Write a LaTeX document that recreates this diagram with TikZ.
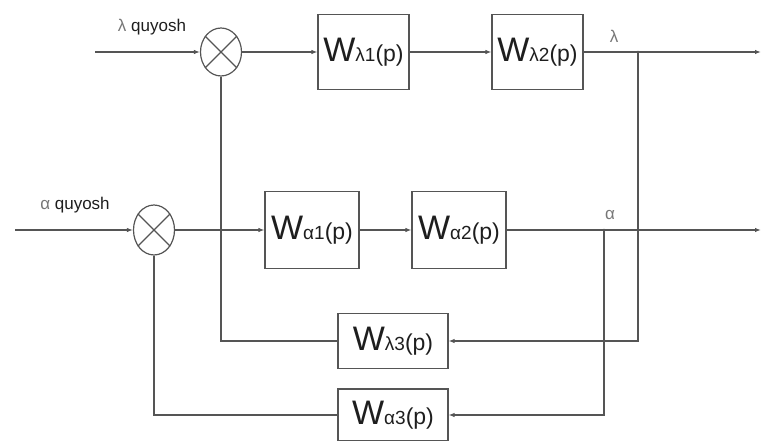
\documentclass[tikz,border=0pt]{standalone}
\usepackage{fontspec}
\setmainfont{Liberation Sans}
\usetikzlibrary{arrows.meta,shapes.geometric}
\definecolor{lc}{HTML}{555555}
\definecolor{tc}{HTML}{1E1E1E}
\definecolor{gc}{HTML}{777777}
\newcommand{\wlab}[2]{{\fontsize{34}{34}\selectfont W}{\fontsize{19}{19}\selectfont #1#2}{\fontsize{23}{23}\selectfont (p)}}
\begin{document}
\begin{tikzpicture}[x=1pt,y=-1pt,
  line width=1.2pt, draw=lc,
  tip/.style={-{Latex[length=6pt,width=4.5pt]}},
  blk/.style={draw=lc, line width=1.2pt, inner sep=0pt, text=tc},
  sumj/.style={ellipse, draw=lc, line width=1.2pt, minimum width=41pt, minimum height=48pt, inner sep=0pt},
  lab/.style={text=tc, font=\fontsize{17}{17}\selectfont, inner sep=0pt}]
\useasboundingbox (0,0) rectangle (762,441);
% summing junctions
\node[sumj] (s1) at (221,52) {};
\node[sumj, minimum height=50pt] (s2) at (154,230) {};
\foreach \s in {s1,s2}{
  \draw[lc] (\s.45) -- (\s.225);
  \draw[lc] (\s.135) -- (\s.315);
}
% blocks
\node[blk, minimum width=91pt, minimum height=75pt] (wl1) at (363.5,52) {\wlab{λ}{1}};
\node[blk, minimum width=91pt, minimum height=75pt] (wl2) at (537.5,52) {\wlab{λ}{2}};
\node[blk, minimum width=94pt, minimum height=77pt] (wa1) at (312,230) {\wlab{α}{1}};
\node[blk, minimum width=94pt, minimum height=77pt] (wa2) at (459,230) {\wlab{α}{2}};
\node[blk, minimum width=110pt, minimum height=55pt] (wl3) at (393,341) {\wlab{λ}{3}};
\node[blk, minimum width=110pt, minimum height=52pt] (wa3) at (393,415) {\wlab{α}{3}};
% coordinates
\coordinate (in1) at (95,52);
\coordinate (in2) at (15,230);
\coordinate (j1) at (638,52);
\coordinate (j2) at (604,230);
\coordinate (o1) at (761,52);
\coordinate (o2) at (761,230);
\coordinate (c1) at (638,341);
\coordinate (c2) at (604,415);
\coordinate (d1) at (221,341);
\coordinate (d2) at (154,415);
% labels
\node[lab, anchor=south] at (152,36) {{\color{gc}λ} quyosh};
\node[lab, anchor=south] at (75,214) {{\color{gc}α} quyosh};
\node[lab, anchor=south, text=gc] at (614,43) {λ};
\node[lab, anchor=south, text=gc] at (610,220) {α};
% forward paths
\draw[tip] (in1) -- (s1);
\draw[tip] (s1) -- (wl1);
\draw[tip] (wl1) -- (wl2);
\draw[tip] (wl2.east) -- (o1);
\draw[tip] (in2) -- (s2);
\draw[tip] (s2) -- (wa1);
\draw[tip] (wa1) -- (wa2);
\draw[tip] (wa2.east) -- (o2);
% feedback
\draw[tip] (j1) -- (c1) -- (wl3.east);
\draw (wl3.west) -- (d1) -- (s1.south);
\draw[tip] (j2) -- (c2) -- (wa3.east);
\draw (wa3.west) -- (d2) -- (s2.south);
\fill[lc] (j1) circle (1.3pt) (j2) circle (1.3pt);
\end{tikzpicture}
\end{document}
